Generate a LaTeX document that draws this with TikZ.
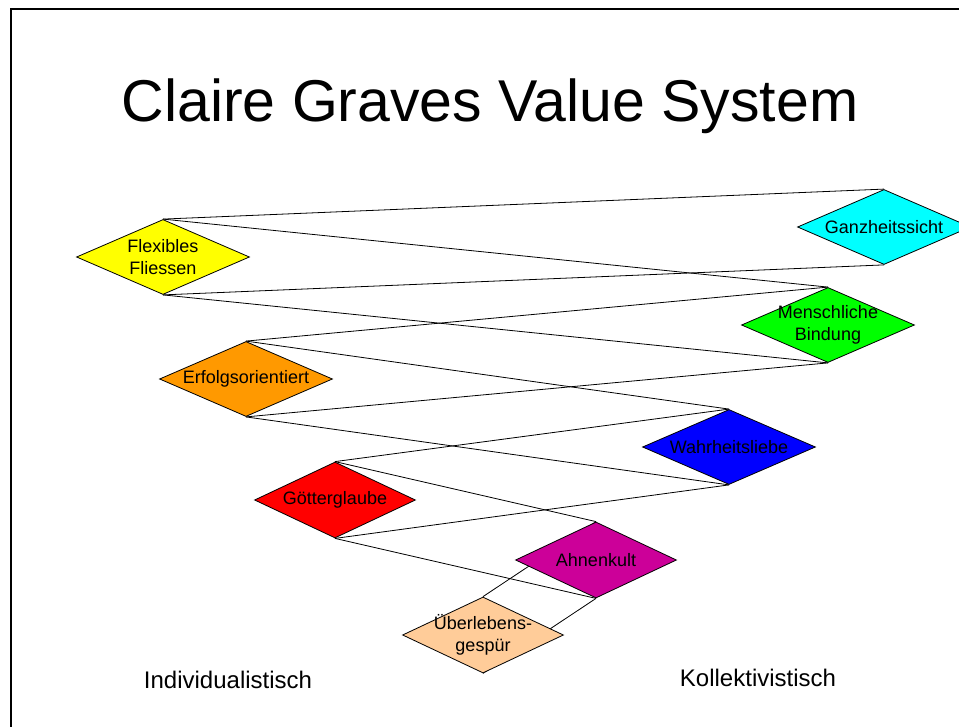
\documentclass[tikz,border=0pt]{standalone}
\usepackage{fontspec}
\setmainfont{Liberation Sans}
\usepackage{tikz}
\usetikzlibrary{shapes.geometric,backgrounds}
\definecolor{gelb}{HTML}{FFFF00}
\definecolor{tuerkis}{HTML}{00FFFF}
\definecolor{gruen}{HTML}{00FF00}
\definecolor{orange}{HTML}{FF9900}
\definecolor{blau}{HTML}{0000FF}
\definecolor{rot}{HTML}{FF0000}
\definecolor{purpur}{HTML}{CC0099}
\definecolor{pfirsich}{HTML}{FFCC99}

\begin{document}
\begin{tikzpicture}[x=1pt,y=-1pt,
    wert/.style={diamond,draw,line width=0.8pt,inner xsep=-50pt,inner ysep=0pt,
      minimum width=173,minimum height=75,align=center,
      font=\fontsize{18}{22}\selectfont},
    klein/.style={minimum width=161,minimum height=76},
    verbindung/.style={line width=0.8pt}]
                    \useasboundingbox (0,0) rectangle (959,727);
                    \draw[line width=2pt] (11,727) -- (11,9) -- (959,9);

                    \node[anchor=base,font=\fontsize{59}{66}\selectfont] (titel) at (490,122) {Claire Graves Value System};

                    \node[wert,fill=tuerkis] (ganz) at (884,227) {Ganzheitssicht};
                    \node[wert,fill=gelb] (flex) at (163,257) {Flexibles\\Fliessen};
                    \node[wert,fill=gruen] (mensch) at (828,325) {Menschliche\\Bindung};
                    \node[wert,fill=orange] (erfolg) at (246,379) {Erfolgsorientiert};
                    \node[wert,fill=blau] (wahr) at (729,447) {Wahrheitsliebe};
                    \node[wert,klein,fill=rot] (goetter) at (335,500) {Götterglaube};
                    \node[wert,klein,fill=purpur] (ahnen) at (596,560) {Ahnenkult};
                    \node[wert,klein,fill=pfirsich] (ueberleben) at (483,635) {Überlebens-\\gespür};

                    \node[anchor=base,font=\fontsize{24}{28}\selectfont] (indiv) at (228,688) {Individualistisch};
                    \node[anchor=base,font=\fontsize{24}{28}\selectfont] (kollek) at (758,686) {Kollektivistisch};

                    % Verbindungen hinter den Rauten
                    \begin{scope}[on background layer]
                    \draw[verbindung] (flex.north) -- (ganz.north);
                    \draw[verbindung] (flex.south) -- (ganz.south);
                    \draw[verbindung] (flex.north) -- (mensch.north);
                    \draw[verbindung] (flex.south) -- (mensch.south);
                    \draw[verbindung] (erfolg.north) -- (mensch.north);
                    \draw[verbindung] (erfolg.south) -- (mensch.south);
                    \draw[verbindung] (erfolg.north) -- (wahr.north);
                    \draw[verbindung] (erfolg.south) -- (wahr.south);
                    \draw[verbindung] (goetter.north) -- (wahr.north);
                    \draw[verbindung] (goetter.south) -- (wahr.south);
                    \draw[verbindung] (goetter.north) -- (ahnen.north);
                    \draw[verbindung] (goetter.south) -- (ahnen.south);
                    \draw[verbindung] (ueberleben.north) -- (ahnen.north);
                    \draw[verbindung] (ueberleben.south) -- (ahnen.south);
                    \end{scope}

                  \end{tikzpicture}
\end{document}
